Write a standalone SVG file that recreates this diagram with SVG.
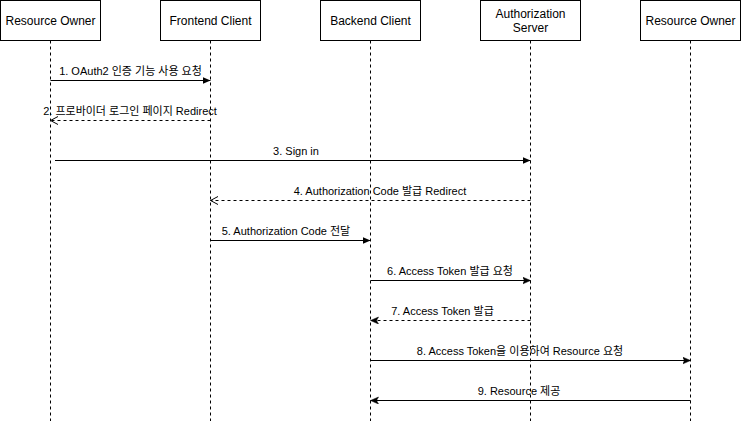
<svg xmlns="http://www.w3.org/2000/svg" width="741" height="421" viewBox="0 0 741 421">
<style>
.box{fill:#fff;stroke:#000;stroke-width:1}
.life{stroke:#000;stroke-width:1;stroke-dasharray:3 3;fill:none}
.t{font-family:"Liberation Sans",Arial,"Noto Sans CJK KR",sans-serif;font-size:12px;fill:#000;text-anchor:middle}
.l{font-family:"Liberation Sans",Arial,"Noto Sans CJK KR",sans-serif;font-size:11px;fill:#000;text-anchor:middle}
.msg{stroke:#000;stroke-width:1;fill:none}
.ret{stroke:#000;stroke-width:1;fill:none;stroke-dasharray:3 3}
</style>
<defs>
<marker id="block" markerUnits="userSpaceOnUse" markerWidth="10" markerHeight="10" refX="8" refY="3.5" orient="auto"><path d="M0,0 L8,3.5 L0,7 z" fill="#000"/></marker>
<marker id="classic" markerUnits="userSpaceOnUse" markerWidth="10" markerHeight="10" refX="8" refY="3.5" orient="auto"><path d="M0,0 L8,3.5 L0,7 L2,3.5 z" fill="#000" stroke="#000" stroke-width="0.5"/></marker>
<marker id="open" markerUnits="userSpaceOnUse" markerWidth="10" markerHeight="10" refX="8" refY="4.5" orient="auto"><path d="M0.5,0.5 L8,4.5 L0.5,8.5" fill="none" stroke="#000" stroke-width="1"/></marker>
</defs>
<rect width="741" height="421" fill="#fff"/>
<g id="ro1"><rect class="box" x="0.5" y="0.5" width="100" height="40"/><text class="t" x="50.5" y="24.5">Resource Owner</text><line class="life" x1="50.5" y1="40.5" x2="50.5" y2="421"/></g>
<g id="fe"><rect class="box" x="160.5" y="0.5" width="100" height="40"/><text class="t" x="210.5" y="24.5">Frontend Client</text><line class="life" x1="210.5" y1="40.5" x2="210.5" y2="421"/></g>
<g id="be"><rect class="box" x="320.5" y="0.5" width="100" height="40"/><text class="t" x="370.5" y="24.5">Backend Client</text><line class="life" x1="370.5" y1="40.5" x2="370.5" y2="421"/></g>
<g id="as"><rect class="box" x="480.5" y="0.5" width="100" height="40"/><text class="t" x="530.5" y="18">Authorization</text><text class="t" x="530.5" y="32">Server</text><line class="life" x1="530.5" y1="40.5" x2="530.5" y2="421"/></g>
<g id="ro2"><rect class="box" x="640.5" y="0.5" width="100" height="40"/><text class="t" x="690.5" y="24.5">Resource Owner</text><line class="life" x1="690.5" y1="40.5" x2="690.5" y2="421"/></g>
<g id="connectors">
<line class="msg" x1="50.5" y1="80.5" x2="210.5" y2="80.5" marker-end="url(#block)"/>
<text class="l" x="130.5" y="75">1. OAuth2 인증 기능 사용 요청</text>
<line class="ret" x1="210.5" y1="120.5" x2="50.5" y2="120.5" marker-end="url(#open)"/>
<text class="l" x="130" y="115">2. 프로바이더 로그인 페이지 Redirect</text>
<line class="msg" x1="55" y1="160.5" x2="530.5" y2="160.5" marker-end="url(#block)"/>
<text class="l" x="296" y="155">3. Sign in</text>
<line class="ret" x1="530.5" y1="200.5" x2="210.5" y2="200.5" marker-end="url(#open)"/>
<text class="l" x="380" y="195">4. Authorization Code 발급 Redirect</text>
<line class="msg" x1="210.5" y1="240.5" x2="370.5" y2="240.5" marker-end="url(#block)"/>
<text class="l" x="286" y="235">5. Authorization Code 전달</text>
<line class="msg" x1="370.5" y1="280.5" x2="530.5" y2="280.5" marker-end="url(#classic)"/>
<text class="l" x="450" y="275">6. Access Token 발급 요청</text>
<line class="ret" x1="530.5" y1="320.5" x2="370.5" y2="320.5" marker-end="url(#classic)"/>
<text class="l" x="442.5" y="315">7. Access Token 발급</text>
<line class="msg" x1="370.5" y1="360.5" x2="690.5" y2="360.5" marker-end="url(#classic)"/>
<text class="l" x="520" y="355">8. Access Token을 이용하여 Resource 요청</text>
<line class="msg" x1="690.5" y1="400.5" x2="370.5" y2="400.5" marker-end="url(#classic)"/>
<text class="l" x="519" y="395">9. Resource 제공</text>
</g>
</svg>
